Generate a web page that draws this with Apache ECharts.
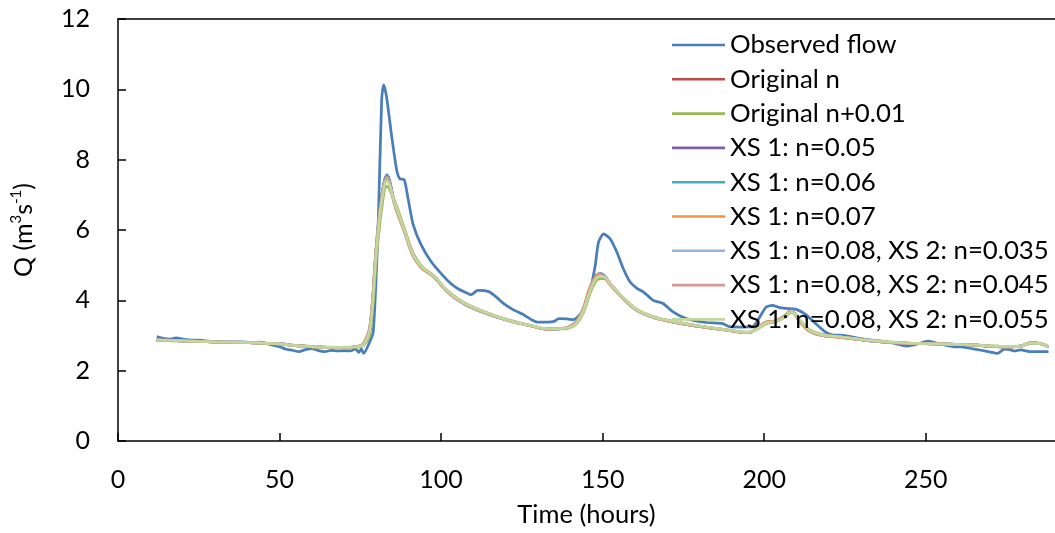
<!DOCTYPE html>
<html>
<head>
<meta charset="utf-8">
<script src="https://cdn.jsdelivr.net/npm/echarts@6/dist/echarts.min.js"></script>
<style>html,body{margin:0;padding:0;background:#fff}#c{width:1055px;height:533px}</style>
</head>
<body>
<div id="c"></div>
<script>
// ---- data ----
var seriesNames = ["Observed flow","Original n","Original n+0.01","XS 1: n=0.05","XS 1: n=0.06","XS 1: n=0.07","XS 1: n=0.08, XS 2: n=0.035","XS 1: n=0.08, XS 2: n=0.045","XS 1: n=0.08, XS 2: n=0.055"];
var xTicks = [0,50,100,150,200,250];
var yTicks = [0,2,4,6,8,10,12];

var obsTime = [12,14,16,18,20,23,26,29,32,35,38,41,44,47,50,52,54,56,58,60,62,64,66,68,70,72,73.5,74.5,75.3,76,77.5,79,80.5,81.6,82.2,83.1,84.7,86.2,87.2,88.6,89.8,91.3,93.9,97,101,103,105.2,107,109.3,111.3,114.9,117,119.5,122,125.7,128,130,133,135,136.4,139,141,143,144.5,146.2,147.7,148.7,150.3,152.3,154.4,156.4,158.5,160.5,162.6,165.6,168.7,171.8,175.9,182,187.2,189.2,193,196.4,198,200.5,202.5,204.5,206.6,209.7,212.8,215.9,218.9,221,225,228.2,232,236.4,240,244,247,250.7,254.8,258.9,261,264,267.1,270,272.2,274.3,276,277.4,279.4,282.5,288];
var obsFlow = [2.97,2.92,2.9,2.93,2.9,2.87,2.86,2.83,2.81,2.8,2.82,2.8,2.81,2.75,2.68,2.61,2.58,2.54,2.6,2.63,2.57,2.54,2.58,2.56,2.57,2.56,2.62,2.52,2.62,2.49,2.73,3.1,6.1,9.7,10.13,9.8,8.67,7.73,7.46,7.43,6.88,6.17,5.56,5.09,4.66,4.48,4.33,4.25,4.16,4.28,4.24,4.1,3.9,3.75,3.58,3.45,3.38,3.38,3.4,3.48,3.47,3.45,3.6,3.8,4.3,4.99,5.65,5.89,5.75,5.37,4.9,4.52,4.35,4.24,4.0,3.91,3.67,3.48,3.37,3.34,3.25,3.24,3.25,3.43,3.8,3.86,3.8,3.77,3.75,3.6,3.34,3.1,3.02,3.0,2.94,2.88,2.84,2.78,2.7,2.75,2.84,2.75,2.68,2.68,2.63,2.58,2.53,2.49,2.61,2.6,2.56,2.59,2.54,2.54];

var simTime = [12,20,30,40,50,55,60,65,70,74,76,78,80,81.6,83.2,85.7,88.8,91.3,93.9,98,102,107,113,121,128,133,138,140,142,144,146,148,149.3,150.5,152.3,156.4,160.5,165.6,171.8,180,188,195,197.4,200.5,203.6,206.1,208.4,210.7,213.8,217.9,223,233,243.5,254,264,275,279.4,282.5,285.5,288];
var simOrigN = [2.87,2.85,2.82,2.80,2.76,2.71,2.68,2.66,2.66,2.68,2.75,3.2,5.5,6.9,7.55,6.75,5.95,5.3,4.95,4.66,4.25,3.92,3.67,3.43,3.27,3.18,3.2,3.25,3.38,3.72,4.3,4.68,4.75,4.7,4.48,4.06,3.73,3.52,3.39,3.26,3.16,3.08,3.18,3.36,3.4,3.53,3.7,3.45,3.15,3.01,2.96,2.85,2.78,2.76,2.73,2.68,2.7,2.79,2.77,2.68];
var simOrigN01 = [2.86,2.84,2.82,2.80,2.76,2.72,2.69,2.67,2.66,2.67,2.72,3.05,5.2,6.6,7.25,6.8,6.0,5.35,4.98,4.68,4.27,3.94,3.69,3.44,3.28,3.19,3.19,3.23,3.34,3.64,4.18,4.56,4.62,4.62,4.45,4.07,3.75,3.54,3.4,3.27,3.17,3.09,3.16,3.33,3.39,3.5,3.65,3.47,3.18,3.03,2.97,2.86,2.79,2.76,2.73,2.69,2.7,2.77,2.77,2.69];
var simXS05 = [2.87,2.85,2.82,2.80,2.76,2.71,2.68,2.66,2.66,2.68,2.76,3.22,5.55,6.95,7.57,6.74,5.94,5.29,4.94,4.65,4.24,3.91,3.66,3.42,3.27,3.18,3.2,3.26,3.39,3.74,4.32,4.7,4.76,4.7,4.47,4.05,3.72,3.52,3.39,3.26,3.16,3.08,3.18,3.37,3.41,3.54,3.71,3.45,3.14,3.0,2.96,2.85,2.78,2.76,2.73,2.68,2.7,2.79,2.77,2.68];
var simXS06 = [2.87,2.85,2.82,2.80,2.76,2.71,2.68,2.66,2.66,2.68,2.76,3.24,5.58,6.93,7.55,6.72,5.93,5.28,4.94,4.65,4.24,3.91,3.66,3.42,3.27,3.18,3.2,3.26,3.4,3.75,4.33,4.7,4.75,4.69,4.46,4.05,3.72,3.52,3.39,3.26,3.16,3.08,3.18,3.37,3.41,3.54,3.7,3.44,3.14,3.0,2.96,2.85,2.78,2.76,2.73,2.68,2.7,2.79,2.77,2.68];
var simXS07 = [2.87,2.85,2.82,2.80,2.76,2.71,2.68,2.66,2.66,2.69,2.78,3.3,5.65,6.95,7.5,6.68,5.9,5.26,4.92,4.64,4.23,3.9,3.66,3.42,3.27,3.18,3.21,3.27,3.42,3.78,4.36,4.7,4.74,4.67,4.44,4.04,3.72,3.51,3.38,3.25,3.16,3.08,3.19,3.38,3.42,3.55,3.7,3.43,3.13,3.0,2.95,2.85,2.78,2.76,2.73,2.68,2.7,2.79,2.77,2.68];
var simXS08a = [2.87,2.85,2.82,2.80,2.76,2.71,2.68,2.66,2.66,2.68,2.76,3.25,5.55,6.88,7.48,6.72,5.93,5.29,4.94,4.65,4.24,3.91,3.66,3.42,3.27,3.18,3.2,3.26,3.39,3.73,4.3,4.66,4.72,4.68,4.46,4.05,3.72,3.52,3.39,3.26,3.16,3.08,3.18,3.36,3.4,3.53,3.69,3.45,3.15,3.01,2.96,2.85,2.78,2.76,2.73,2.68,2.7,2.79,2.77,2.68];
var simXS08b = [2.87,2.85,2.82,2.80,2.76,2.71,2.68,2.66,2.66,2.68,2.75,3.22,5.5,6.85,7.45,6.73,5.94,5.3,4.95,4.66,4.25,3.92,3.67,3.43,3.27,3.18,3.2,3.25,3.38,3.71,4.28,4.65,4.71,4.68,4.47,4.06,3.73,3.52,3.39,3.26,3.16,3.08,3.18,3.36,3.4,3.52,3.68,3.46,3.16,3.01,2.96,2.85,2.78,2.76,2.73,2.68,2.7,2.79,2.77,2.68];
var simXS08c = [2.87,2.85,2.82,2.80,2.76,2.71,2.68,2.66,2.66,2.68,2.74,3.18,5.42,6.8,7.4,6.76,5.96,5.31,4.96,4.67,4.26,3.93,3.68,3.43,3.28,3.19,3.2,3.24,3.36,3.68,4.24,4.62,4.68,4.67,4.47,4.07,3.74,3.53,3.4,3.27,3.17,3.09,3.17,3.35,3.4,3.51,3.67,3.47,3.17,3.02,2.97,2.86,2.79,2.76,2.73,2.69,2.7,2.78,2.77,2.69];

var colors = ["#4A7EBB","#BE4B48","#98B954","#7D60A0","#46AAC5","#F69240","#95B3D7","#D99694","#C3D69B"];
var simSets = [simOrigN, simOrigN01, simXS05, simXS06, simXS07, simXS08a, simXS08b, simXS08c];

function zip(t, v){ return t.map(function(x,i){ return [x, v[i]]; }); }

var FONT = "Lato";
var series = [{
  name: seriesNames[0], type: "line", data: zip(obsTime, obsFlow),
  showSymbol: false, symbol: "none", smooth: 0.2,
  lineStyle: { color: colors[0], width: 2.75 }, itemStyle: { color: colors[0] }
}];
simSets.forEach(function(arr, k){
  series.push({
    name: seriesNames[k+1], type: "line", data: zip(simTime, arr),
    showSymbol: false, symbol: "none", smooth: 0.35,
    lineStyle: { color: colors[k+1], width: 2.75 }, itemStyle: { color: colors[k+1] }
  });
});

var chart = echarts.init(document.getElementById("c"), null, { renderer: "canvas" });
chart.setOption({
  animation: false,
  backgroundColor: "#fff",
  textStyle: { fontFamily: FONT },
  grid: { left: 118, top: 19, width: 943, height: 424, containLabel: false },
  legend: {
    orient: "vertical", left: 672, top: 32, padding: 0,
    itemWidth: 53, itemHeight: 14, itemGap: 8.3,
    icon: "path://M0,0L53,0L53,2.6L0,2.6Z",
    textStyle: { fontFamily: FONT, fontSize: 25.8, color: "#000", lineHeight: 25.5 },
    data: seriesNames
  },
  xAxis: [{
    type: "value", min: 0, max: 290, interval: 50,
    name: "Time (hours)", nameLocation: "middle", nameGap: 61,
    nameTextStyle: { fontFamily: FONT, fontSize: 25.5, color: "#000" },
    axisLine: { show: true, lineStyle: { color: "#000", width: 1.5 } },
    axisTick: { show: true, inside: true, length: 8, lineStyle: { color: "#000", width: 1.5 } },
    axisLabel: { fontFamily: FONT, fontSize: 25, color: "#000", margin: 26, showMaxLabel: false,
      formatter: function(v){ return xTicks.indexOf(v) >= 0 ? String(v) : ""; } },
    splitLine: { show: false }
  }, {
    type: "value", position: "top", min: 0, max: 290,
    axisLine: { show: true, lineStyle: { color: "#000", width: 1.5 } },
    axisTick: { show: false }, axisLabel: { show: false }, splitLine: { show: false }
  }],
  yAxis: {
    type: "value", min: 0, max: 12, interval: 2,
    name: "{a|Q (m}{s|3}{a|s}{s|-1}{a|)}", nameLocation: "middle", nameGap: 82, nameRotate: 90,
    nameTextStyle: { rich: {
      a: { fontFamily: FONT, fontSize: 25, color: "#000", lineHeight: 27, verticalAlign: "bottom" },
      s: { fontFamily: FONT, fontSize: 15, color: "#000", lineHeight: 27, verticalAlign: "top", padding: [0,0,0,0] }
    } },
    axisLine: { show: true, lineStyle: { color: "#000", width: 1.5 } },
    axisTick: { show: true, inside: true, length: 8, lineStyle: { color: "#000", width: 1.5 } },
    axisLabel: { fontFamily: FONT, fontSize: 25, color: "#000", margin: 28,
      formatter: function(v){ return yTicks.indexOf(v) >= 0 ? String(v) : ""; } },
    splitLine: { show: false }
  },
  series: series
});
</script>
</body>
</html>
